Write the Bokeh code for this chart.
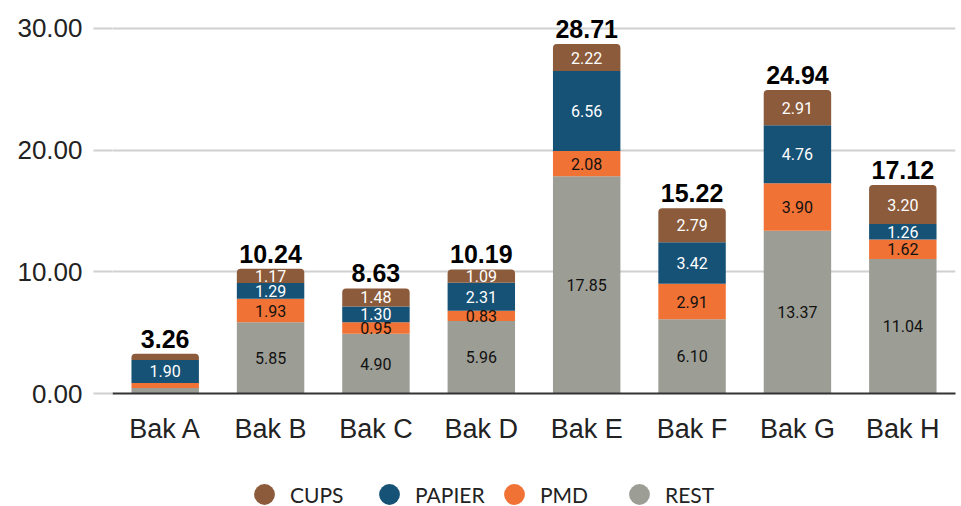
import numpy as np
from bokeh.plotting import figure
from bokeh.layouts import column
from bokeh.models import (ColumnDataSource, FactorRange, Range1d, Legend, LegendItem,
                          NumeralTickFormatter, FixedTicker)
from bokeh.core.properties import value
from bokeh.embed import file_html
from bokeh.resources import INLINE

# ---- data ----
bins = ["Bak A", "Bak B", "Bak C", "Bak D", "Bak E", "Bak F", "Bak G", "Bak H"]
rest = [0.45, 5.85, 4.90, 5.96, 17.85, 6.10, 13.37, 11.04]
pmd = [0.41, 1.93, 0.95, 0.83, 2.08, 2.91, 3.90, 1.62]
papier = [1.90, 1.29, 1.30, 2.31, 6.56, 3.42, 4.76, 1.26]
cups = [0.50, 1.17, 1.48, 1.09, 2.22, 2.79, 2.91, 3.20]
stack_order = ["REST", "PMD", "PAPIER", "CUPS"]
legend_order = ["CUPS", "PAPIER", "PMD", "REST"]
y_ticks = [0, 10, 20, 30]

colors = {"CUPS": "#8B5B3B", "PAPIER": "#165176", "PMD": "#F07234", "REST": "#9C9E96"}
label_colors = {"CUPS": "#FFFFFF", "PAPIER": "#FFFFFF", "PMD": "#111111", "REST": "#111111"}
values = {"REST": rest, "PMD": pmd, "PAPIER": papier, "CUPS": cups}

p = figure(width=961, height=446, x_range=FactorRange(*bins), y_range=Range1d(0, 31.63),
           output_backend="svg", toolbar_location=None,
           min_border_left=112, min_border_right=6, min_border_top=8, min_border_bottom=49)
p.outline_line_color = None

bottom = np.zeros(len(bins))
lab_x, lab_y, lab_t, lab_c = [], [], [], []
sources = {}
for s in stack_order:
    v = np.array(values[s])
    top = bottom + v
    src = ColumnDataSource(dict(x=bins, bottom=bottom, top=top))
    sources[s] = src
    kw = {}
    if s == "CUPS":
        kw["border_radius"] = (4, 4, 0, 0)
    p.vbar(x="x", bottom="bottom", top="top", width=0.64, source=src,
           fill_color=colors[s], line_color=None, **kw)
    for i, b in enumerate(bins):
        if v[i] >= 0.6:
            lab_x.append(b)
            lab_y.append(bottom[i] + v[i] / 2)
            lab_t.append(f"{v[i]:.2f}")
            lab_c.append(label_colors[s])
    bottom = top

totals = bottom
lsrc = ColumnDataSource(dict(x=lab_x, y=lab_y, t=lab_t, c=lab_c))
p.text(x="x", y="y", text="t", text_color="c", source=lsrc, text_align="center",
       text_baseline="middle", text_font=value("Roboto"), text_font_size="16px")

tsrc = ColumnDataSource(dict(x=bins, y=totals, t=[f"{t:.2f}" for t in totals]))
p.text(x="x", y="y", text="t", source=tsrc, text_align="center", text_baseline="bottom",
       y_offset=-6, text_font=value("Liberation Sans"), text_font_style="bold",
       text_font_size="25px", text_color="#000000")

# axes
p.yaxis.ticker = FixedTicker(ticks=y_ticks)
p.yaxis.formatter = NumeralTickFormatter(format="0.00")
p.yaxis.axis_line_color = None
p.yaxis.major_tick_in = 0
p.yaxis.major_tick_out = 19
p.yaxis.major_tick_line_color = "#D0D0D0"
p.yaxis.major_tick_line_width = 2
p.yaxis.minor_tick_line_color = None
p.yaxis.major_label_standoff = 11
p.yaxis.major_label_text_font = "Liberation Sans"
p.yaxis.major_label_text_font_size = "26px"
p.yaxis.major_label_text_color = "#222222"

p.xaxis.axis_line_color = "#333333"
p.xaxis.axis_line_width = 2
p.xaxis.major_tick_line_color = None
p.xaxis.major_label_standoff = 14
p.xaxis.major_label_text_font = "Liberation Sans"
p.xaxis.major_label_text_font_size = "27px"
p.xaxis.major_label_text_color = "#222222"

p.xgrid.grid_line_color = None
p.ygrid.grid_line_color = "#D0D0D0"
p.ygrid.grid_line_width = 2
p.ygrid.ticker = FixedTicker(ticks=y_ticks)

# legend in its own strip below the chart (frame aligned with the chart's frame)
lf = figure(width=961, height=60, x_range=p.x_range, y_range=p.y_range,
            output_backend="svg", toolbar_location=None,
            min_border_left=112, min_border_right=6, min_border_top=0, min_border_bottom=0)
lf.axis.visible = False
lf.grid.visible = False
lf.outline_line_color = None
items = []
for s in legend_order:
    # zero-size markers: invisible in the strip, legend draws its own swatch size
    r = lf.scatter(x="x", y="top", source=sources[s], marker="circle",
                   size=0, fill_color=colors[s], line_color=None)
    items.append(LegendItem(label=s, renderers=[r]))
legend = Legend(items=items, orientation="horizontal", location=(126, -14),
                glyph_width=52, glyph_height=52, label_standoff=0, spacing=0, label_width=73,
                label_text_font="Lato", label_text_font_size="21px", label_text_color="#222222",
                border_line_color=None, background_fill_alpha=0, padding=0, margin=0)
lf.add_layout(legend, "center")

layout = column(p, lf, spacing=0)
open("out.html", "w").write(file_html(layout, INLINE))
